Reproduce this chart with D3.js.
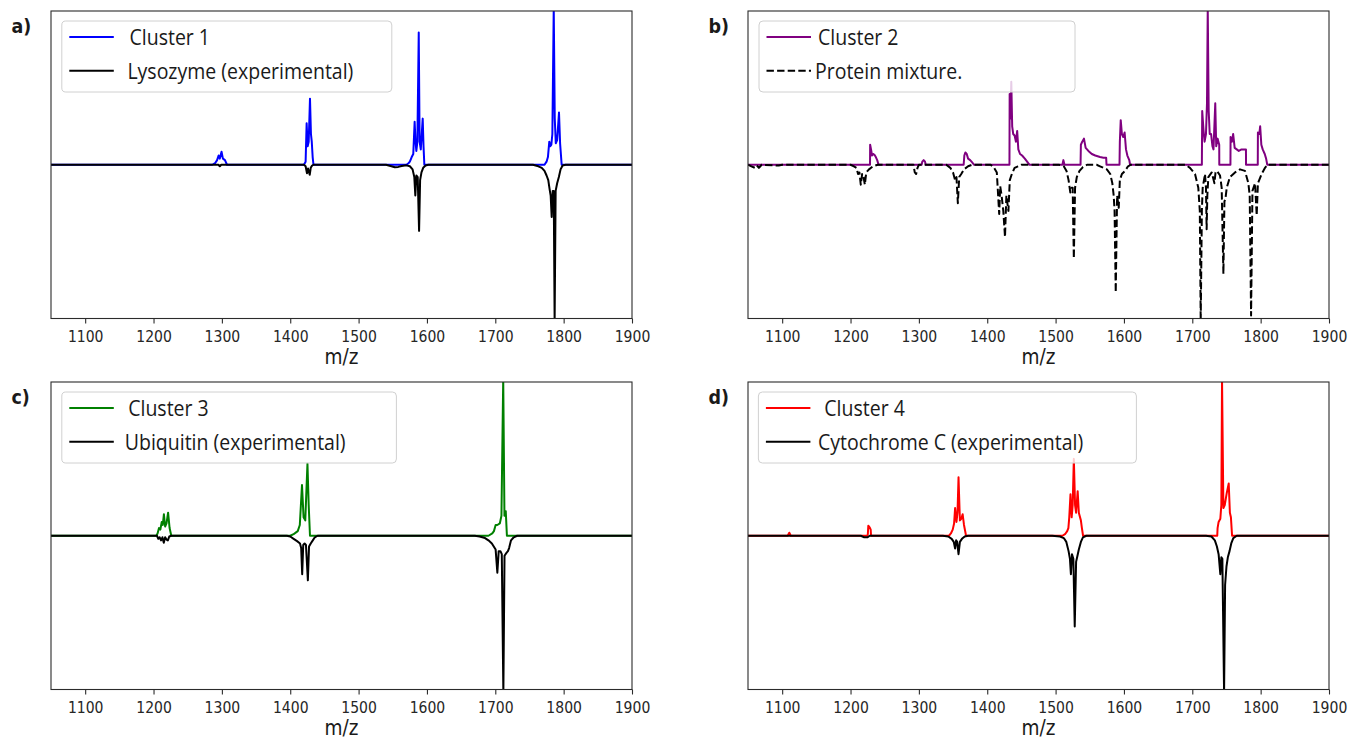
<!DOCTYPE html>
<html>
<head>
<meta charset="utf-8">
<script src="https://cdn.jsdelivr.net/npm/d3@7"></script>
<style>
  html, body { margin: 0; padding: 0; background: #fff; }
  svg { display: block; }
</style>
</head>
<body>
<svg id="chart" width="1349" height="740"></svg>
<script>
// x axis ticks shared by all four panels
const xTicks = [1100, 1200, 1300, 1400, 1500, 1600, 1700, 1800, 1900];
const panelLabels = ['a)', 'b)', 'c)', 'd)'];
const clusterNames = ['Cluster 1', 'Cluster 2', 'Cluster 3', 'Cluster 4'];
const clusterColors = ['#0000ff', '#800080', '#008000', '#ff0000'];
const referenceNames = ['Lysozyme (experimental)', 'Protein mixture.', 'Ubiquitin (experimental)', 'Cytochrome C (experimental)'];

// [m/z, normalised intensity]
const cluster1 = [[1050,0],[1286,0],[1290,0.01],[1293,0.03],[1295.2,0.06],[1297,0.04],[1299.5,0.085],[1301.5,0.04],[1304.5,0.03],[1307.5,0],
  [1420,0],[1422.5,0.02],[1424,0.27],[1425.5,0.12],[1427,0.15],[1428.9,0.43],[1430.3,0.2],[1431.5,0.15],[1432.8,0.05],[1434,0],
  [1570,0],[1573,0.01],[1575,0.02],[1577.7,0.05],[1580,0.07],[1582,0.28],[1583.3,0.15],[1584.5,0.09],[1586,0.15],[1588,0.86],[1589.3,0.15],[1591,0.1],[1593.8,0.3],[1595,0.12],[1596.2,0],
  [1772,0],[1775,0.02],[1777,0.05],[1779,0.15],[1780.5,0.12],[1782,0.13],[1783.5,0.2],[1785.5,1.02],[1787,0.3],[1788.5,0.14],[1790.5,0.16],[1793.2,0.34],[1794.8,0.14],[1797.1,0],[1900,0]];

const lysozyme = [[1050,0],[1295,0],[1297,-0.01],[1299,0],
  [1420,0],[1422.5,-0.01],[1424.5,-0.055],[1426,-0.025],[1428.5,-0.065],[1430,-0.02],[1432,-0.005],[1434,0],
  [1540,0],[1548,-0.01],[1553,-0.016],[1558,-0.014],[1563,-0.008],[1570,-0.004],[1575,-0.01],[1579,-0.03],[1581.5,-0.08],[1583,-0.2],[1584.5,-0.07],[1586.5,-0.08],[1588.5,-0.43],[1590,-0.1],[1592,-0.05],[1594.5,-0.02],[1598,-0.005],[1602,0],
  [1755,0],[1763,-0.01],[1768,-0.02],[1772,-0.04],[1775,-0.07],[1777.5,-0.1],[1779.5,-0.16],[1781,-0.2],[1782.5,-0.34],[1784,-0.17],[1785.5,-0.17],[1786.8,-1.02],[1788.3,-0.17],[1790.5,-0.12],[1793,-0.08],[1795.5,-0.03],[1798.5,-0.005],[1803,0],[1900,0]];

const cluster2 = [[1050,0],[1228.5,0],[1228.7,0.13],[1230,0.1],[1231.5,0.06],[1233,0.07],[1235,0.065],[1237,0.05],[1239,0.03],[1241,0],
  [1304,0],[1305,0.02],[1307,0.03],[1309,0.02],[1310,0],
  [1365.5,0],[1366.5,0.06],[1368,0.08],[1370,0.07],[1372,0.04],[1375,0.03],[1378,0.015],[1380.6,0],
  [1432.5,0],[1432.8,0.46],[1434,0.3],[1435.2,0.54],[1436.5,0.25],[1438,0.2],[1440,0.19],[1442,0.15],[1443.8,0.22],[1445.5,0.1],[1448,0.07],[1451,0.06],[1455,0.04],[1460,0.01],[1462,0],
  [1510,0],[1511.4,0.03],[1513,0],
  [1536.5,0],[1537,0.13],[1539,0.15],[1541.5,0.17],[1544,0.11],[1548,0.09],[1553,0.07],[1558,0.06],[1565,0.05],[1570,0.045],[1574,0.045],[1574.5,0],
  [1593.5,0],[1594,0.15],[1595.3,0.29],[1597,0.2],[1599,0.18],[1601,0.21],[1603,0.1],[1605,0.06],[1607.8,0.03],[1609,0],
  [1714,0],[1714.5,0.35],[1716.5,0.22],[1718,0.15],[1720,0.2],[1721.5,0.4],[1722.6,1.02],[1724,0.35],[1725.5,0.2],[1727.5,0.2],[1729.5,0.12],[1731,0.1],[1733.6,0.4],[1735,0.12],[1737,0.17],[1739.4,0.13],[1739.5,0],
  [1755.8,0],[1756,0.18],[1758,0.15],[1759.8,0.2],[1762,0.11],[1765,0.1],[1768,0.09],[1772,0.1],[1776,0.1],[1778.5,0.1],[1778.6,0],
  [1795.8,0],[1796,0.21],[1798,0.2],[1799.3,0.25],[1801,0.13],[1803,0.1],[1806,0.07],[1808,0.04],[1809.7,0],[1900,0]];

const mixture = [[1050,0],[1055,-0.01],[1060,-0.02],[1063,-0.005],[1066,-0.02],[1070,0],[1095,-0.005],[1100,0],
  [1200,0],[1205,-0.01],[1208.7,-0.02],[1211,-0.06],[1213,-0.05],[1215,-0.13],[1217,-0.06],[1219,-0.08],[1221,-0.13],[1223,-0.05],[1227,-0.03],[1233,-0.01],[1240,0],
  [1292,0],[1294,-0.05],[1296,-0.06],[1298,-0.02],[1300,0],
  [1340,0],[1346,-0.02],[1350,-0.05],[1353,-0.1],[1355,-0.08],[1357,-0.25],[1359,-0.08],[1362,-0.06],[1366,-0.03],[1372,-0.01],[1378,0],
  [1405,0],[1410,-0.02],[1414,-0.05],[1417.5,-0.32],[1419,-0.14],[1421,-0.2],[1423.5,-0.3],[1426,-0.47],[1428,-0.2],[1431,-0.3],[1433,-0.1],[1436,-0.06],[1440,-0.02],[1445,-0.01],[1450,0],
  [1505,0],[1512,-0.01],[1516,-0.04],[1519,-0.1],[1521.5,-0.18],[1523.5,-0.15],[1525,-0.15],[1526.7,-0.61],[1528.5,-0.15],[1531,-0.08],[1535,-0.04],[1540,-0.015],[1546,0],
  [1560,0],[1565,-0.01],[1570,-0.02],[1575,-0.03],[1580,-0.06],[1583,-0.12],[1585,-0.2],[1586.3,-0.3],[1588,-0.83],[1590,-0.2],[1592.4,-0.28],[1594,-0.1],[1597,-0.06],[1601.6,-0.04],[1606,-0.01],[1610,0],
  [1690,0],[1696.6,-0.02],[1704,-0.06],[1708.8,-0.15],[1711,-0.3],[1712.3,-1.02],[1714,-0.3],[1715.2,-0.15],[1718.6,-0.06],[1720,-0.15],[1721,-0.42],[1722,-0.2],[1723.5,-0.08],[1728.4,-0.05],[1732.4,-0.12],[1734,-0.05],[1736,-0.04],[1740.6,-0.07],[1743,-0.15],[1745.5,-0.71],[1747,-0.24],[1748.5,-0.22],[1750.4,-0.15],[1755,-0.08],[1762.5,-0.05],[1769.8,-0.03],[1777.1,-0.04],[1782,-0.12],[1784,-0.2],[1786,-0.98],[1788,-0.17],[1791.8,-0.12],[1794.2,-0.33],[1796,-0.12],[1801.5,-0.06],[1806.4,-0.02],[1810,0],[1900,0]];

const cluster3 = [[1050,0],[1204,0],[1205.9,0.015],[1208,0.05],[1210,0.04],[1212,0.09],[1213.5,0.07],[1215.2,0.14],[1217,0.06],[1219,0.08],[1221.3,0.15],[1223.5,0.05],[1226,0],
  [1400,0],[1404.9,0.01],[1408,0.02],[1411,0.03],[1414,0.07],[1417.2,0.33],[1419.5,0.12],[1422,0.1],[1425.2,0.47],[1427,0.2],[1428.9,0],
  [1690,0],[1695.6,0.015],[1698,0.03],[1700.5,0.07],[1703,0.07],[1706.6,0.08],[1709,0.13],[1711.6,1.02],[1713.4,0.13],[1715.3,0.16],[1717,0],[1900,0]];

const ubiquitin = [[1050,0],[1205,0],[1207,-0.02],[1209,-0.01],[1211,-0.03],[1213,-0.01],[1215,-0.045],[1217,-0.01],[1219,-0.025],[1221,-0.03],[1223,-0.005],[1226,0],
  [1395,0],[1400,-0.005],[1405,-0.02],[1410,-0.035],[1414.3,-0.05],[1416,-0.08],[1417.5,-0.25],[1419,-0.06],[1421,-0.05],[1423,-0.06],[1425.8,-0.29],[1427.5,-0.07],[1430,-0.05],[1433,-0.03],[1436,-0.01],[1440,0],
  [1670,0],[1677,-0.005],[1685,-0.015],[1690,-0.03],[1695,-0.05],[1700.5,-0.09],[1703,-0.24],[1705,-0.1],[1707.5,-0.1],[1709.5,-0.12],[1711.8,-1.02],[1713.5,-0.13],[1716.6,-0.11],[1718.5,-0.1],[1720.2,-0.08],[1723,-0.03],[1727,-0.01],[1732,0],[1900,0]];

const cluster4 = [[1050,0],[1108,0],[1110.4,0.02],[1112.5,0],
  [1224.5,0],[1225.3,0.01],[1226,0.065],[1228,0.055],[1229.5,0.04],[1230,0],
  [1344,0],[1346.8,0.015],[1349.5,0.04],[1351.5,0.08],[1353,0.18],[1355,0.09],[1356.5,0.15],[1358,0.38],[1360,0.1],[1362,0.11],[1364,0.14],[1366,0.07],[1369,0],
  [1510,0],[1513.8,0.01],[1517,0.03],[1518.7,0.05],[1520,0.12],[1521.8,0.27],[1523.5,0.12],[1525,0.2],[1526.7,0.5],[1528.5,0.2],[1530,0.15],[1532.3,0.29],[1534,0.15],[1537,0.1],[1538.5,0.05],[1540.2,0],
  [1736.5,0],[1737,0.05],[1738.5,0.09],[1741,0.11],[1742.5,0.2],[1743.5,1.02],[1745.5,0.18],[1747.5,0.2],[1750.5,0.28],[1753.3,0.34],[1755,0.15],[1756.5,0.12],[1758.2,0],[1900,0]];

const cytochrome = [[1050,0],[1215,0],[1220,-0.01],[1225,-0.01],[1228,0],
  [1335,0],[1343,-0.005],[1348,-0.02],[1351,-0.04],[1353,-0.083],[1354.5,-0.03],[1356,-0.04],[1358,-0.12],[1360,-0.04],[1363,-0.02],[1367,-0.005],[1372,0],
  [1495,0],[1506.5,-0.005],[1512,-0.015],[1515.7,-0.04],[1519,-0.1],[1521,-0.15],[1522.4,-0.25],[1524,-0.12],[1526,-0.15],[1528,-0.59],[1530,-0.17],[1532,-0.13],[1534,-0.09],[1537,-0.04],[1540,-0.01],[1545,0],
  [1720,0],[1728,-0.005],[1733,-0.03],[1736,-0.07],[1738.5,-0.12],[1741,-0.25],[1742.5,-0.14],[1744,-0.15],[1746.5,-1.02],[1748,-0.32],[1750,-0.2],[1752,-0.14],[1754.5,-0.1],[1757,-0.05],[1760,-0.015],[1765,0],[1900,0]];

const clusterSeries = [cluster1, cluster2, cluster3, cluster4];
const referenceSeries = [lysozyme, mixture, ubiquitin, cytochrome];
const referenceDashed = [false, true, false, false];

// layout (pixels)
const frames = [{x: 51, y: 11}, {x: 748, y: 11}, {x: 51, y: 382}, {x: 748, y: 382}];
const plotW = 581, plotH = 307.5;
const legendBoxes = [
  {x: 61.8, w: 330, t1: 129.5, t2: 127.4},
  {x: 759, w: 316, t1: 818, t2: 815},
  {x: 61.8, w: 334.6, t1: 128.2, t2: 124.8},
  {x: 758.4, w: 378, t1: 824.3, t2: 818}
];
const stretch = 1.13; // text in the reference is a little taller than wide

const svg = d3.select('#chart');

function addText(g, x, y, str, font, size, weight, anchor) {
  return g.append('text')
    .attr('transform', `translate(${x},${y}) scale(1,${stretch})`)
    .attr('font-family', font)
    .attr('font-size', size)
    .attr('font-weight', weight || 'normal')
    .attr('text-anchor', anchor || 'start')
    .attr('fill', '#1a1a1a')
    .text(str);
}

frames.forEach((f, i) => {
  const g = svg.append('g');

  const x = d3.scaleLinear().domain([1050, 1900]).range([f.x, f.x + plotW]);
  const y = d3.scaleLinear().domain([-1, 1]).range([f.y + plotH, f.y]);

  const clipId = 'clip' + i;
  svg.append('clipPath').attr('id', clipId)
    .append('rect').attr('x', f.x).attr('y', f.y).attr('width', plotW).attr('height', plotH);

  const line = d3.line().x(d => x(d[0])).y(d => y(d[1]));

  const plot = g.append('g').attr('clip-path', `url(#${clipId})`);
  plot.append('path')
    .datum(clusterSeries[i])
    .attr('d', line)
    .attr('fill', 'none')
    .attr('stroke', clusterColors[i])
    .attr('stroke-width', 2)
    .attr('stroke-linejoin', 'round');
  plot.append('path')
    .datum(referenceSeries[i])
    .attr('d', line)
    .attr('fill', 'none')
    .attr('stroke', '#000')
    .attr('stroke-width', 2)
    .attr('stroke-linejoin', 'round')
    .attr('stroke-dasharray', referenceDashed[i] ? '7.4,3.2' : null);

  // frame
  g.append('rect')
    .attr('x', f.x).attr('y', f.y).attr('width', plotW).attr('height', plotH)
    .attr('fill', 'none').attr('stroke', '#2b2b2b').attr('stroke-width', 1.1);

  // x axis
  const axis = g.append('g')
    .attr('transform', `translate(0,${f.y + plotH})`)
    .call(d3.axisBottom(x).tickValues(xTicks).tickSize(5).tickSizeOuter(0).tickFormat(d3.format('d')));
  axis.select('.domain').remove();
  axis.selectAll('.tick line').attr('stroke', '#2b2b2b').attr('stroke-width', 1.1);
  axis.selectAll('.tick text')
    .attr('y', null).attr('dy', null)
    .attr('transform', `translate(0,23.5) scale(1,${stretch})`)
    .attr('font-family', 'DejaVu Sans')
    .attr('font-size', 14)
    .attr('fill', '#262626');

  addText(g, f.x + plotW / 2, f.y + plotH + 45.5, 'm/z', 'DejaVu Sans', 18.5, 'normal', 'middle');

  // panel letter
  addText(g, f.x < 100 ? 11.5 : 708.5, f.y + 21.5, panelLabels[i], 'DejaVu Sans', 17.5, 'bold');

  // legend
  const lb = legendBoxes[i];
  const lg = g.append('g');
  lg.append('rect')
    .attr('x', lb.x).attr('y', f.y + 10).attr('width', lb.w).attr('height', 71)
    .attr('rx', 4).attr('ry', 4)
    .attr('fill', '#fff').attr('fill-opacity', 0.8)
    .attr('stroke', '#d0d0d0').attr('stroke-width', 1);
  const rows = [
    {color: clusterColors[i], dash: null, name: clusterNames[i], tx: lb.t1},
    {color: '#000', dash: referenceDashed[i] ? '7.4,3.2' : null, name: referenceNames[i], tx: lb.t2}
  ];
  rows.forEach((r, k) => {
    const ly = f.y + 26 + k * 33.7;
    lg.append('line')
      .attr('x1', lb.x + 7.5).attr('x2', lb.x + 52)
      .attr('y1', ly).attr('y2', ly)
      .attr('stroke', r.color).attr('stroke-width', 2)
      .attr('stroke-dasharray', r.dash);
    addText(lg, r.tx, ly + 8, r.name, 'Open Sans', 19.5, 'normal');
  });
});
</script>
</body>
</html>
